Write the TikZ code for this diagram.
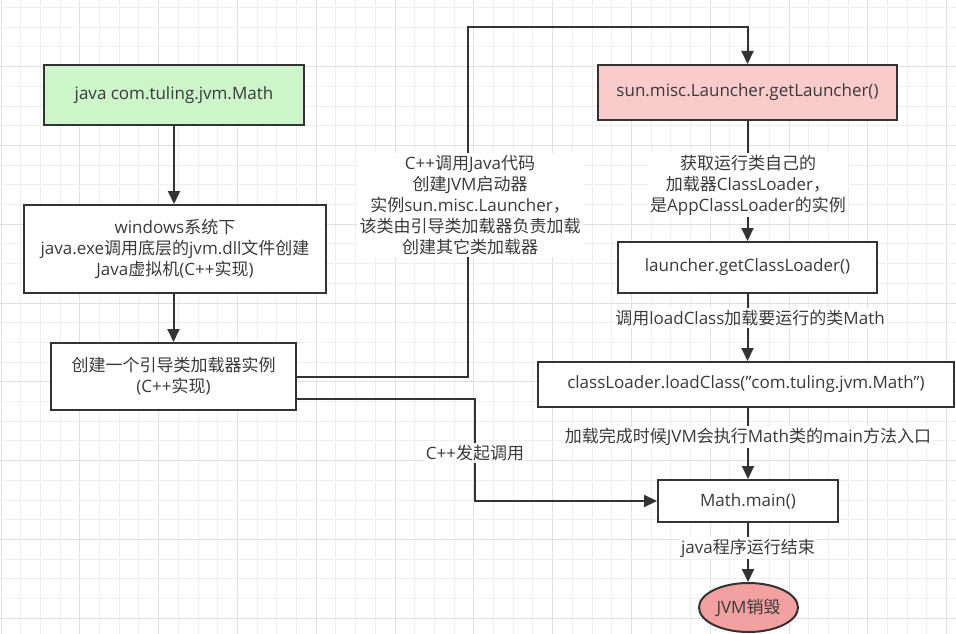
\documentclass[tikz,border=0pt]{standalone}
\usepackage{fontspec}
\setmainfont{Open Sans}
\newfontfamily\cjkfont{Noto Sans CJK SC}
\usetikzlibrary{arrows.meta,shapes.geometric}
% automatic switch to the CJK font for CJK characters
\XeTeXinterchartokenstate=1
\newXeTeXintercharclass\CJKcls
\count255="3000
\loop\XeTeXcharclass\count255=\CJKcls\ifnum\count255<"9FFF\advance\count255 by 1\repeat
\count255="FF00
\loop\XeTeXcharclass\count255=\CJKcls\ifnum\count255<"FFEF\advance\count255 by 1\repeat
\XeTeXinterchartoks 0 \CJKcls = {\cjkfont}
\XeTeXinterchartoks 4095 \CJKcls = {\cjkfont}
\XeTeXinterchartoks \CJKcls 0 = {\rmfamily}
\definecolor{ln}{HTML}{333333}
\definecolor{txt}{HTML}{3A3A3A}
\definecolor{gridmin}{HTML}{EFEFEF}
\definecolor{gridmaj}{HTML}{E0E0E0}
\definecolor{greenfill}{HTML}{CCF5C9}
\definecolor{pinkfill}{HTML}{F9CCCB}
\definecolor{redfill}{HTML}{F2A0A0}
\begin{document}
\begin{tikzpicture}[x=1pt,y=-1pt,
  box/.style={draw=ln,line width=2pt,fill=white,rectangle,inner sep=2pt,
    align=center,text=txt,font=\fontsize{17}{21}\selectfont},
  lbl/.style={fill=white,inner sep=2pt,align=center,text=txt,
    font=\fontsize{17}{21}\selectfont},
  arr/.style={draw=ln,line width=2pt,-{Triangle[length=13pt,width=12pt]}},
  gmin/.style={draw=gridmin,line width=1pt},
  gmaj/.style={draw=gridmaj,line width=1pt}]
\useasboundingbox (0,0) rectangle (956,634);
\fill[white] (0,0) rectangle (956,634);
% grid
\foreach \i in {0,...,48}{
  \pgfmathtruncatemacro{\m}{mod(\i,4)}
  \ifnum\m=0 \draw[gmaj] ({1+19.7*\i},0) -- ({1+19.7*\i},634);
  \else \draw[gmin] ({1+19.7*\i},0) -- ({1+19.7*\i},634); \fi
}
\foreach \j in {0,...,32}{
  \pgfmathtruncatemacro{\m}{mod(\j,4)}
  \ifnum\m=3 \draw[gmaj] (0,{7.5+19.7*\j}) -- (956,{7.5+19.7*\j});
  \else \draw[gmin] (0,{7.5+19.7*\j}) -- (956,{7.5+19.7*\j}); \fi
}
% nodes
\node[box,fill=greenfill,minimum width=260pt,minimum height=60pt] (n1) at (174,95) {java com.tuling.jvm.Math};
\node[box,minimum width=302pt,minimum height=88pt] (n2) at (175,249) {windows系统下\\java.exe调用底层的jvm.dll文件创建\\Java虚拟机(C++实现)};
\node[box,minimum width=245pt,minimum height=67pt] (n3) at (173.5,376.5) {创建一个引导类加载器实例\\(C++实现)};
\node[box,fill=pinkfill,minimum width=299pt,minimum height=55pt] (n4) at (747.5,92.5) {sun.misc.Launcher.getLauncher()};
\node[box,minimum width=259pt,minimum height=51pt] (n5) at (747.5,267.5) {launcher.getClassLoader()};
\node[box,minimum width=416pt,minimum height=45pt] (n6) at (746,384.5) {classLoader.loadClass("com.tuling.jvm.Math")};
\node[box,minimum width=180pt,minimum height=42pt] (n7) at (748,501) {Math.main()};
\node[box,ellipse,fill=redfill,minimum width=99pt,minimum height=49pt,inner sep=0pt] (n8) at (748.5,607.5) {JVM销毁};
% bend points
\coordinate (k1) at (468,27);
\coordinate (k2) at (475,450);
% connectors
\draw[arr] (n1.south) -- (n1.south |- n2.north);
\draw[arr] (n2.south -| n3.north) -- (n3.north);
\draw[arr] (n3.east) -| (k1) -| (n4.north);
\draw[arr] ([yshift=-22pt]n3.east) -| (k2) |- (n7.west);
\draw[arr] (n4.south) -- (n4.south |- n5.north);
\draw[arr] (n5.south) -- (n5.south |- n6.north);
\draw[arr] (n6.south -| n7.north) -- (n7.north);
\draw[arr] (n7.south) -- (n7.south |- n8.north);
% labels
\node[lbl] (l1) at (470,205) {C++调用Java代码\\创建JVM启动器\\实例sun.misc.Launcher，\\该类由引导类加载器负责加载\\创建其它类加载器};
\node[lbl] (l2) at (748,185) {获取运行类自己的\\加载器ClassLoader，\\是AppClassLoader的实例};
\node[lbl] (l3) at (750,318) {调用loadClass加载要运行的类Math};
\node[lbl] (l4) at (748,437) {加载完成时候JVM会执行Math类的main方法入口};
\node[lbl] (l5) at (475,453) {C++发起调用};
\node[lbl] (l6) at (748,548) {java程序运行结束};
\end{tikzpicture}
\end{document}
